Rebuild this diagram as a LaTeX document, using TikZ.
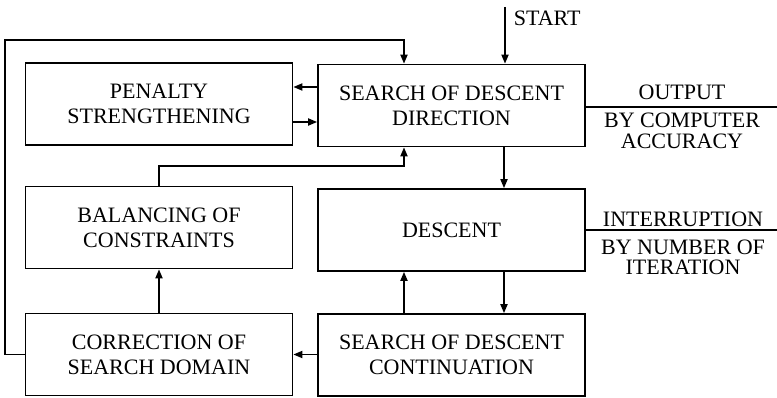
\documentclass[tikz,border=0pt]{standalone}
\usepackage{fontspec}
\setmainfont{Liberation Serif}
\usetikzlibrary{arrows.meta}
\begin{document}
\begin{tikzpicture}[x=1pt,y=-1pt,line width=1.7pt,
  box/.style={draw,minimum width=267pt,minimum height=82pt,align=center,inner sep=0pt,
    font=\fontsize{22}{25}\selectfont},
  arr/.style={-{Triangle[length=9pt,width=7pt]}},
  lbl/.style={inner sep=0pt,font=\fontsize{22}{20}\selectfont}]
\useasboundingbox (0,0) rectangle (777,398);
\node[box] (pen)  at (159,104)   {PENALTY\\STRENGTHENING};
\node[box] (srch) at (451.5,105.5) {SEARCH OF DESCENT\\DIRECTION};
\node[box] (bal)  at (159,227.5) {BALANCING OF\\CONSTRAINTS};
\node[box] (desc) at (451.5,230) {DESCENT};
\node[box] (corr) at (159,354.5) {CORRECTION OF\\SEARCH DOMAIN};
\node[box] (cont) at (451.5,355) {SEARCH OF DESCENT\\CONTINUATION};
% labels
\node[lbl,anchor=base west] (start) at (513,26) {START};
\coordinate (s0) at (505,7);
\node[lbl,anchor=base] (out1) at (682,100) {OUTPUT};
\node[lbl,anchor=base] (out2) at (682,128) {BY COMPUTER};
\node[lbl,anchor=base] (out3) at (682,149) {ACCURACY};
\node[lbl,anchor=base] (int1) at (683,227) {INTERRUPTION};
\node[lbl,anchor=base] (int2) at (683,255) {BY NUMBER OF};
\node[lbl,anchor=base] (int3) at (683,275) {ITERATION};
\coordinate (oend) at (777,107);
\coordinate (iend) at (777,230);
% connectors
\draw[arr] (s0) -- (s0 |- srch.north);
\draw (srch.east |- oend) -- (oend);
\draw (desc.east |- iend) -- (iend);
\draw[arr] (srch.west |- 0,87) -- (pen.east |- 0,87);
\draw[arr] (pen.east |- 0,122) -- (srch.west |- 0,122);
\draw[arr] (corr.west) -- (5,354.5) -- (5,40) -- (404,40) -- (srch.north -| 404,0);
\draw[arr] (bal.north) -- (bal.north |- 0,166) -- (404,166) -- (srch.south -| 404,0);
\draw[arr] (srch.south -| 504,0) -- (desc.north -| 504,0);
\draw[arr] (desc.south -| 504,0) -- (cont.north -| 504,0);
\draw[arr] (cont.north -| 404,0) -- (desc.south -| 404,0);
\draw[arr] (cont.west |- corr.west) -- (corr.east);
\draw[arr] (corr.north) -- (bal.south);
\end{tikzpicture}
\end{document}
